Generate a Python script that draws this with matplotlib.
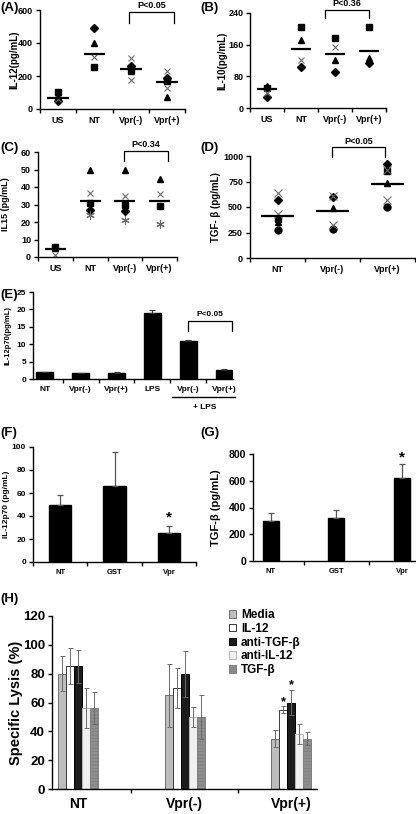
import matplotlib
matplotlib.use('Agg')
import matplotlib.pyplot as plt
import numpy as np

nan = np.nan

# ---------------- data ----------------
A_cats = ['US', 'NT', 'Vpr(-)', 'Vpr(+)']
A_diamond = [50, 490, 260, 185]
A_triangle = [80, 400, 230, 73]
A_square = [105, 255, 236, 170]
A_cross = [60, 315, 309, 230]
A_cross2 = [nan, nan, 176, 127]
A_mean = [67, 333, 244, 165]

B_cats = ['US', 'NT', 'Vpr(-)', 'Vpr(+)']
B_square = [50, 205, 177, 205]
B_triangle = [56, 172, 121, 126]
B_cross = [38, 121, 155, nan]
B_diamond = [28, 103, 92, 114]
B_mean = [48, 149, 136, 144]

C_cats = ['US', 'NT', 'Vpr(-)', 'Vpr(+)']
C_triangle = [5, 50, 50, 44.5]
C_cross = [1, 36.5, 35, 36]
C_square = [6, 31, 29.7, 29]
C_diamond = [nan, 27, 26.5, nan]
C_aster = [nan, 24, 21, 19]
C_mean = [4.5, 32, 32, 32]

D_cats = ['NT', 'Vpr(-)', 'Vpr(+)']
D_cross = [640, 610, 860]
D_diamond = [570, 600, 925]
D_cross2 = [430, 320, 570]
D_square = [380, nan, 850]
D_triangle = [350, 490, 740]
D_circle = [270, 280, 500]
D_mean = [415, 465, 725]

E_cats = ['NT', 'Vpr(-)', 'Vpr(+)', 'LPS', 'Vpr(-)', 'Vpr(+)']
E_vals = [2.0, 1.7, 1.8, 19.0, 11.0, 2.6]
E_err = [0.15, 0.1, 0.15, 0.9, 0.3, 0.2]

F_cats = ['NT', 'GST', 'Vpr']
F_vals = [50, 66, 25]
F_err = [8, 30, 6]

G_cats = ['NT', 'GST', 'Vpr']
G_vals = [300, 325, 620]
G_err = [60, 60, 105]

H_groups = ['NT', 'Vpr(-)', 'Vpr(+)']
H_series = ['Media', 'IL-12', 'anti-TGF-β', 'anti-IL-12', 'TGF-β']
H_media = [80, 65, 35]
H_il12 = [85, 70, 55]
H_antitgf = [85, 80, 60]
H_antiil12 = [56, 50, 38]
H_tgf = [56, 50, 35]
H_media_err = [12, 22, 6]
H_il12_err = [12.5, 14, 2.5]
H_antitgf_err = [11.5, 16, 9]
H_antiil12_err = [14, 7, 7]
H_tgf_err = [11, 15, 4.5]

# ---------------- figure ----------------
W, H = 416, 814
plt.rcParams['font.family'] = ['Liberation Sans', 'DejaVu Sans']
plt.rcParams['font.weight'] = 'bold'
plt.rcParams['axes.labelweight'] = 'bold'
plt.rcParams['hatch.linewidth'] = 0.5

fig = plt.figure(figsize=(W / 100, H / 100), dpi=100)


def add_ax(l, t, r, b):
    return fig.add_axes([l / W, 1 - b / H, (r - l) / W, (b - t) / H])


def style(ax, fs, xfs=None):
    for s in ['top', 'right']:
        ax.spines[s].set_visible(False)
    ax.spines['left'].set_linewidth(1.0)
    ax.spines['bottom'].set_linewidth(1.0)
    ax.tick_params(axis='y', direction='out', length=3, width=1, labelsize=fs, pad=2)
    ax.tick_params(axis='x', which='major', length=0, labelsize=xfs or fs, pad=5)
    ax.tick_params(axis='x', which='minor', length=3, width=1, direction='out')
    ax.patch.set_alpha(0)


def panel_label(px, py, s):
    fig.text(px / W, 1 - py / H, s, fontsize=9.5, fontweight='bold', va='top', ha='left')


def ylabel_at(ax, s, px_right, l, r, fs):
    # px_right: pixel x of the label's right edge (text bottom after rotation)
    ax.set_ylabel(s, fontsize=fs, fontweight='bold')
    ax.yaxis.set_label_coords((px_right - l) / (r - l), 0.5)


def bracket(ax, x0, x1, ylow, ytop, ytext, txt, fs):
    ax.plot([x0, x0, x1, x1], [ylow, ytop, ytop, ylow], color='black', lw=0.9, clip_on=False)
    ax.text((x0 + x1) / 2, ytext, txt, ha='center', va='bottom', fontsize=fs, clip_on=False)


blk = dict(color='black', linestyle='none')
crs = dict(color='#6a6a6a', linestyle='none', mew=0.8)


def scatter_panel(ax, cats, series, means):
    x = np.arange(len(cats))
    for vals, m, kw, ms in series:
        ax.plot(x, np.array(vals, dtype=float), marker=m, ms=ms, **kw)
    ax.hlines(means, x - 0.3, x + 0.3, color='black', lw=1.6, zorder=5)
    ax.set_xticks(x)
    ax.set_xticklabels(cats)
    ax.set_xticks(np.arange(len(cats) + 1) - 0.5, minor=True)
    ax.set_xlim(-0.5, len(cats) - 0.5)


# ---- Panel A ----
l, t, r, b = 40, 10, 185, 109
axA = add_ax(l, t, r, b)
scatter_panel(axA, A_cats, [
    (A_square, 's', blk, 4.5), (A_triangle, '^', blk, 4.5), (A_diamond, 'D', blk, 4),
    (A_cross, 'x', crs, 5), (A_cross2, 'x', crs, 5)], A_mean)
axA.set_ylim(0, 600)
axA.set_yticks([0, 200, 400, 600])
style(axA, 6.5)
ylabel_at(axA, 'IL-12(pg/mL)', 19, l, r, 7)
bracket(axA, 1.95, 3.2, 521, 588, 600, 'P<0.05', 6.5)
panel_label(0, 2, '(A)')

# ---- Panel B ----
l, t, r, b = 250, 13, 386, 108
axB = add_ax(l, t, r, b)
scatter_panel(axB, B_cats, [
    (B_square, 's', blk, 4.5), (B_triangle, '^', blk, 4.5), (B_diamond, 'D', blk, 4),
    (B_cross, 'x', crs, 5)], B_mean)
axB.set_ylim(0, 240)
axB.set_yticks([0, 80, 160, 240])
style(axB, 6.5)
axB.tick_params(axis='y', pad=1.5)
ylabel_at(axB, 'IL-10(pg/mL)', 227, l, r, 7)
bracket(axB, 1.7, 3.0, 227, 247, 252, 'P<0.36', 6.5)
panel_label(200, 2, '(B)')

# ---- Panel C ----
l, t, r, b = 38, 152, 177, 257
axC = add_ax(l, t, r, b)
scatter_panel(axC, C_cats, [
    (C_square, 's', blk, 4.5), (C_triangle, '^', blk, 4.5), (C_diamond, 'D', blk, 4),
    (C_cross, 'x', crs, 5), (C_aster, (6, 2, 0), crs, 6)], C_mean)
axC.set_ylim(0, 60)
axC.set_yticks(np.arange(0, 61, 10))
style(axC, 6.5)
ylabel_at(axC, 'IL15 (pg/mL)', 10, l, r, 6.5)
bracket(axC, 1.97, 3.24, 54.9, 60.6, 61.8, 'P<0.34', 6.5)
panel_label(0, 142, '(C)')

# ---- Panel D ----
l, t, r, b = 250, 156, 415, 258
axD = add_ax(l, t, r, b)
scatter_panel(axD, D_cats, [
    (D_circle, 'o', blk, 5), (D_square, 's', blk, 4.5), (D_triangle, '^', blk, 5),
    (D_diamond, 'D', blk, 4.5), (D_cross, 'x', crs, 6), (D_cross2, 'x', crs, 6)], D_mean)
axD.set_ylim(0, 1000)
axD.set_yticks([0, 250, 500, 750, 1000])
style(axD, 6.5)
ylabel_at(axD, 'TGF- β (pg/mL)', 221, l, r, 7)
bracket(axD, 0.99, 1.95, 990, 1088, 1100, 'P<0.05', 6.5)
panel_label(200, 142, '(D)')

# ---- Panel E ----
l, t, r, b = 33, 292, 233, 379
axE = add_ax(l, t, r, b)
xE = np.arange(len(E_cats))
axE.bar(xE, E_vals, width=0.47, color='black', edgecolor='black')
axE.errorbar(xE, E_vals, yerr=[np.zeros(len(E_err)), E_err], fmt='none', ecolor='#333333',
             elinewidth=0.8, capsize=2, capthick=0.8)
axE.set_xticks(xE)
axE.set_xticklabels(E_cats)
axE.set_xticks(np.arange(len(E_cats)) + 0.5, minor=True)
axE.set_xlim(-0.33, 5.25)
axE.set_ylim(0, 25)
axE.set_yticks(np.arange(0, 26, 5))
style(axE, 6)
ylabel_at(axE, 'IL-12p70(pg/mL)', 12, l, r, 5.5)
bracket(axE, 4.0, 5.22, 13.8, 16.7, 17.4, 'P<0.05', 6)
tr = axE.get_xaxis_transform()
axE.plot([3.55, 5.3], [-0.207, -0.207], color='black', lw=1.0, transform=tr, clip_on=False)
axE.text(4.45, -0.33, '+ LPS', transform=tr, ha='center', va='center', fontsize=6)
panel_label(0, 289, '(E)')

# ---- Panel F ----
l, t, r, b = 33, 447, 196, 562
axF = add_ax(l, t, r, b)
xF = np.arange(len(F_cats))
axF.bar(xF, F_vals, width=0.41, color='black', edgecolor='black')
axF.errorbar(xF, F_vals, yerr=[np.zeros(3), F_err], fmt='none', ecolor='#555555',
             elinewidth=0.9, capsize=2.5, capthick=0.9)
axF.text(2, 33, '*', ha='center', va='bottom', fontsize=11, fontweight='bold')
axF.set_xticks(xF)
axF.set_xticklabels(F_cats)
axF.set_xticks(np.arange(4) - 0.5, minor=True)
axF.set_xlim(-0.5, 2.5)
axF.set_ylim(0, 100)
axF.set_yticks(np.arange(0, 101, 20))
style(axF, 6, 5.5)
ylabel_at(axF, 'IL-12p70 (pg/mL)', 10, l, r, 6)
panel_label(0, 427, '(F)')

# ---- Panel G ----
l, t, r, b = 253, 454, 415, 561
axG = add_ax(l, t, r, b)
xG = np.arange(len(G_cats))
axG.bar(xG, G_vals, width=0.25, color='black', edgecolor='black')
axG.errorbar(xG, G_vals, yerr=[np.zeros(3), G_err], fmt='none', ecolor='#555555',
             elinewidth=0.9, capsize=2.5, capthick=0.9)
axG.text(2, 725, '*', ha='center', va='bottom', fontsize=11, fontweight='bold')
axG.set_xticks(xG)
axG.set_xticklabels(G_cats)
axG.set_xticks([0.5, 1.5], minor=True)
axG.set_xlim(-0.27, 2.2)
axG.set_ylim(0, 800)
axG.set_yticks(np.arange(0, 801, 200))
style(axG, 7.5, 5.5)
ylabel_at(axG, 'TGF-β (pg/mL)', 221, l, r, 8)
panel_label(200, 427, '(G)')

# ---- Panel H ----
l, t, r, b = 52, 616, 317, 789
axH = add_ax(l, t, r, b)
xH = np.arange(len(H_groups))
vals = [H_media, H_il12, H_antitgf, H_antiil12, H_tgf]
errs = [H_media_err, H_il12_err, H_antitgf_err, H_antiil12_err, H_tgf_err]
faces = ['#bdbdbd', 'white', '#1c1c1c', '#f0f0f0', '#8e8e8e']
edges = ['#6e6e6e', '#3a3a3a', '#000000', '#b5b5b5', '#7f7f7f']
hatches = [None, None, None, None, '-----']
bw = 0.075
handles = []
for i in range(5):
    xs = xH + (i - 2) * bw
    bc = axH.bar(xs, vals[i], width=bw, color=faces[i], edgecolor=edges[i], linewidth=0.7,
                 hatch=hatches[i], label=H_series[i])
    handles.append(bc)
    axH.errorbar(xs, vals[i], yerr=errs[i], fmt='none', ecolor='#6a6a6a',
                 elinewidth=0.7, capsize=1.8, capthick=0.7)
axH.text(2 - bw, H_il12[2] + H_il12_err[2] - 1.5, '*', ha='center', va='bottom', fontsize=9)
axH.text(2, H_antitgf[2] + H_antitgf_err[2] - 1, '*', ha='center', va='bottom', fontsize=9)
axH.set_xticks(xH)
axH.set_xticklabels(H_groups)
axH.set_xticks([0.5, 1.5], minor=True)
axH.set_xlim(-0.244, 2.24)
axH.set_ylim(0, 120)
axH.set_yticks(np.arange(0, 121, 20))
style(axH, 9.5, 10)
axH.tick_params(axis='x', which='major', pad=6)
ylabel_at(axH, 'Specific Lysis (%)', 23, l, r, 10.5)
fig.legend(handles=handles, labels=H_series, loc='upper left',
           bbox_to_anchor=(229 / W, 1 - 609 / H), bbox_transform=fig.transFigure,
           frameon=False, handlelength=0.6, handleheight=0.6,
           handletextpad=0.4, labelspacing=0.15, borderpad=0, borderaxespad=0,
           prop={'weight': 'bold', 'size': 8.5})
panel_label(0, 593, '(H)')

fig.savefig('out.png', dpi=100)
